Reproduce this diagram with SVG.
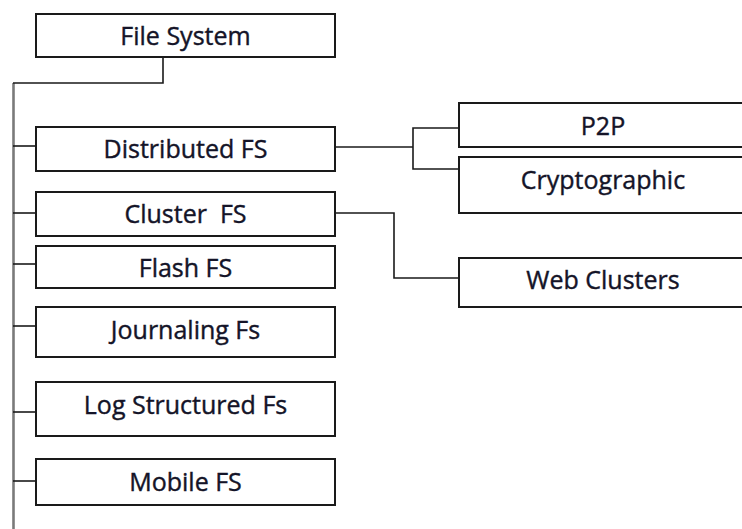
<svg xmlns="http://www.w3.org/2000/svg" width="742" height="529" viewBox="0 0 742 529">
<style>
.box{fill:#fff;stroke:#1a1a1a;stroke-width:2}
.lbl{font-family:"Open Sans","Noto Sans",sans-serif;font-size:25px;fill:#141428;stroke:#141428;stroke-width:0.4;text-anchor:middle}
.ln{fill:none;stroke:#1a1a1a;stroke-width:1.6}
.trunk{fill:none;stroke:#7a7a7a;stroke-width:2.6}
</style>
<rect width="742" height="529" fill="#fff"/>
<g id="connectors">
<line class="trunk" x1="13.5" y1="83" x2="13.5" y2="529"/>
<polyline class="ln" points="163,57 163,83 13,83"/>
<line class="ln" x1="13" y1="146" x2="36" y2="146"/>
<line class="ln" x1="13" y1="213" x2="36" y2="213"/>
<line class="ln" x1="13" y1="264" x2="36" y2="264"/>
<line class="ln" x1="13" y1="326" x2="36" y2="326"/>
<line class="ln" x1="13" y1="412" x2="36" y2="412"/>
<line class="ln" x1="13" y1="481" x2="36" y2="481"/>
<line class="ln" x1="335" y1="147" x2="413" y2="147"/>
<polyline class="ln" points="459,128 413,128 413,169 459,169"/>
<polyline class="ln" points="335,213 394,213 394,278 459,278"/>
</g>
<g id="file-system"><rect class="box" x="36" y="14" width="299" height="43"/><text class="lbl" x="185.5" y="45">File System</text></g>
<g id="distributed-fs"><rect class="box" x="36" y="127" width="299" height="44"/><text class="lbl" x="185.5" y="158">Distributed FS</text></g>
<g id="cluster-fs"><rect class="box" x="36" y="192" width="299" height="44"/><text class="lbl" x="185.5" y="223" xml:space="preserve">Cluster  FS</text></g>
<g id="flash-fs"><rect class="box" x="36" y="246" width="299" height="42"/><text class="lbl" x="185.5" y="277">Flash FS</text></g>
<g id="journaling-fs"><rect class="box" x="36" y="307" width="299" height="50"/><text class="lbl" x="185.5" y="339">Journaling Fs</text></g>
<g id="log-structured-fs"><rect class="box" x="36" y="382" width="299" height="54"/><text class="lbl" x="185.5" y="414">Log Structured Fs</text></g>
<g id="mobile-fs"><rect class="box" x="36" y="459" width="299" height="46"/><text class="lbl" x="185.5" y="491">Mobile FS</text></g>
<g id="p2p"><rect class="box" x="459" y="103" width="290" height="44"/><text class="lbl" x="603" y="135">P2P</text></g>
<g id="cryptographic"><rect class="box" x="459" y="157" width="290" height="56"/><text class="lbl" x="603" y="189">Cryptographic</text></g>
<g id="web-clusters"><rect class="box" x="459" y="258" width="290" height="49"/><text class="lbl" x="603" y="289">Web Clusters</text></g>
</svg>
